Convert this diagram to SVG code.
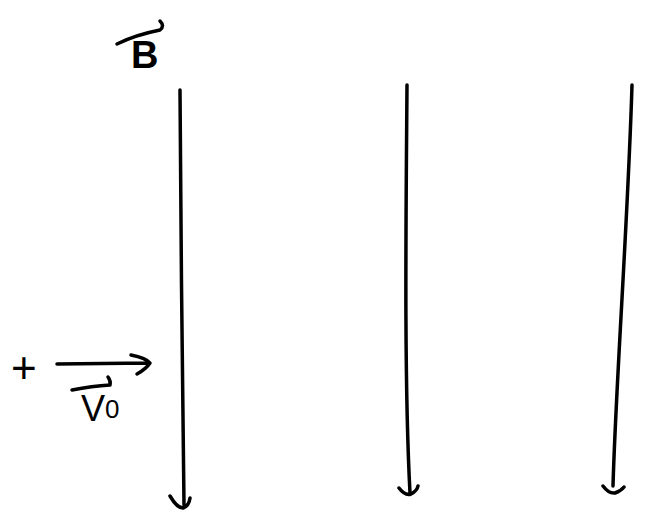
<svg xmlns="http://www.w3.org/2000/svg" width="646" height="519" viewBox="0 0 646 519">
<style>
.ln{fill:none;stroke:#000;stroke-width:3.5;stroke-linecap:round;stroke-linejoin:round}
.tx{font-family:"Liberation Sans",Arial,sans-serif;fill:#000}
</style>
<rect width="646" height="519" fill="#fff"/>
<g id="connectors">
<path id="field1" class="ln" d="M180 90 C181 220 182 380 184 505 M170 496 Q177 508 183 508 Q189 506 190 498"/>
<path id="field2" class="ln" d="M407 85 C406 220 404 380 410 493 M399 488 Q405 496 411 494 Q417 491 418 486"/>
<path id="field3" class="ln" d="M632 85 C628 220 616 380 613 486 M603 486 Q609 494 615 493 Q621 491 624 487"/>
<path id="velocity" class="ln" d="M57 364 L149 363 M131 355 Q146 358 150 363 Q146 369 137 374"/>
</g>
<g id="labelB">
<path class="ln" d="M117 44 Q135 35 160 30 Q165 26 160 21" stroke-width="3"/>
<text class="tx" x="131" y="68" font-size="38" font-weight="bold">B</text>
</g>
<g id="particle">
<text class="tx" x="11" y="383" font-size="44">+</text>
</g>
<g id="labelV">
<path class="ln" d="M72 390 Q92 386 110 385 Q111 381 108 377" stroke-width="3"/>
<text class="tx" x="81" y="421" font-size="36">V<tspan font-size="26" dy="-3">0</tspan></text>
</g>
</svg>
